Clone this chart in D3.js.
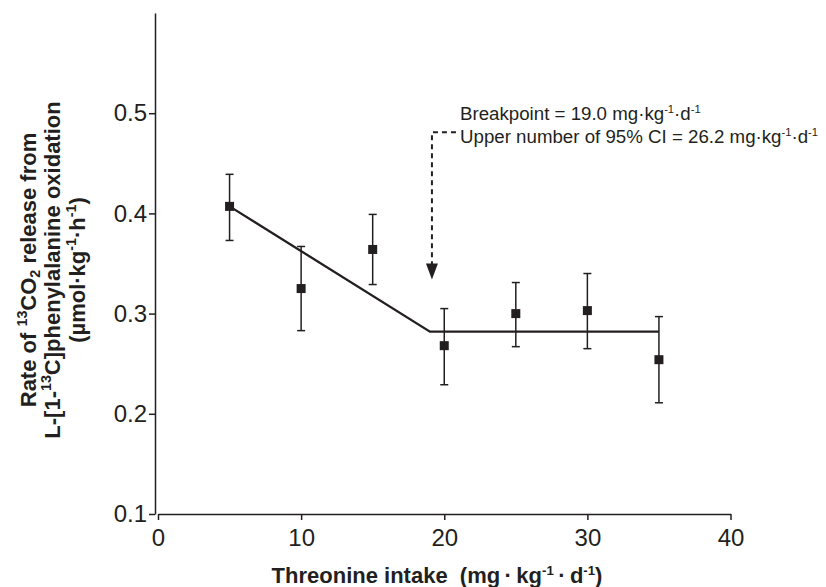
<!DOCTYPE html>
<html>
<head>
<meta charset="utf-8">
<script src="https://cdn.jsdelivr.net/npm/d3@7"></script>
<style>
  body { margin: 0; background: #fff; }
  svg { display: block; font-family: "Liberation Sans", Arial, Helvetica, sans-serif; }
  .axis path, .axis line { stroke: #231f20; stroke-width: 1.5; }
  .axis text { fill: #231f20; font-size: 24px; }
</style>
</head>
<body>
<div id="chart"></div>
<script>
// threonine intake (mg/kg/d)
var intake = [5, 10, 15, 20, 25, 30, 35];
// 13CO2 release rate, mean and error bar limits
var rate  = [0.407, 0.325, 0.364, 0.268, 0.300, 0.303, 0.254];
var upper = [0.439, 0.367, 0.399, 0.305, 0.331, 0.340, 0.297];
var lower = [0.373, 0.283, 0.329, 0.229, 0.267, 0.265, 0.211];

// two-phase linear regression
var fitX = [5, 19, 35];
var fitY = [0.407, 0.282, 0.282];
var breakpoint = 19;

var xTicks = [0, 10, 20, 30, 40];
var yTicks = [0.1, 0.2, 0.3, 0.4, 0.5];

var width = 826, height = 587;

var svg = d3.select("#chart").append("svg")
    .attr("width", width)
    .attr("height", height);

svg.append("rect").attr("width", width).attr("height", height).attr("fill", "#fff");

var x = d3.scaleLinear().domain([0, 40]).range([158, 730.5]);
var y = d3.scaleLinear().domain([0.1, 0.6]).range([514, 13]);

var ink = "#231f20";

// axes
svg.append("g")
    .attr("class", "axis")
    .attr("transform", "translate(155,0)")
    .call(d3.axisLeft(y).tickValues(yTicks).tickFormat(d3.format(".1f")).tickSize(6).tickSizeOuter(0).tickPadding(2));

svg.append("g")
    .attr("class", "axis")
    .attr("transform", "translate(0,514)")
    .call(d3.axisBottom(x).tickValues(xTicks).tickSize(6).tickSizeOuter(0).tickPadding(9));

// fitted line
var line = d3.line().x(function(d) { return x(d[0]); }).y(function(d) { return y(d[1]); });
svg.append("path")
    .datum(d3.zip(fitX, fitY))
    .attr("d", line)
    .attr("fill", "none")
    .attr("stroke", ink)
    .attr("stroke-width", 2.3);

// error bars
var pts = intake.map(function(d, i) { return {x: d, y: rate[i], hi: upper[i], lo: lower[i]}; });
var bars = svg.append("g").selectAll("g").data(pts).enter().append("g")
    .attr("stroke", ink).attr("stroke-width", 1.5);
bars.append("line")
    .attr("x1", function(d) { return x(d.x); }).attr("x2", function(d) { return x(d.x); })
    .attr("y1", function(d) { return y(d.hi); }).attr("y2", function(d) { return y(d.lo); });
bars.append("line")
    .attr("x1", function(d) { return x(d.x) - 4; }).attr("x2", function(d) { return x(d.x) + 4; })
    .attr("y1", function(d) { return y(d.hi); }).attr("y2", function(d) { return y(d.hi); });
bars.append("line")
    .attr("x1", function(d) { return x(d.x) - 4; }).attr("x2", function(d) { return x(d.x) + 4; })
    .attr("y1", function(d) { return y(d.lo); }).attr("y2", function(d) { return y(d.lo); });

// square markers
svg.append("g").selectAll("rect").data(pts).enter().append("rect")
    .attr("x", function(d) { return x(d.x) - 4.5; })
    .attr("y", function(d) { return y(d.y) - 4.5; })
    .attr("width", 9).attr("height", 9)
    .attr("fill", ink);

// breakpoint arrow (dashed)
var ax = x(breakpoint) + 2;
var aTop = y(0.481), aTip = y(0.334);
svg.append("path")
    .attr("d", "M" + (ax + 24) + "," + aTop + "H" + ax + "V" + (aTip - 14))
    .attr("fill", "none")
    .attr("stroke", ink)
    .attr("stroke-width", 2)
    .attr("stroke-dasharray", "5,4");
svg.append("path")
    .attr("d", "M" + (ax - 6) + "," + (aTip - 16) + "L" + (ax + 6) + "," + (aTip - 16) + "L" + ax + "," + aTip + "Z")
    .attr("fill", ink);

// annotation text
function units(t, pre) {
  t.append("tspan").text(pre + "mg·kg");
  t.append("tspan").attr("font-size", "0.6em").attr("baseline-shift", "0.6em").text("-1");
  t.append("tspan").text("·d");
  t.append("tspan").attr("font-size", "0.6em").attr("baseline-shift", "0.6em").text("-1");
}
var note = svg.append("g").attr("font-size", 18.7).attr("fill", ink);
units(note.append("text").attr("x", 460).attr("y", 120), "Breakpoint = 19.0 ");
units(note.append("text").attr("x", 460).attr("y", 143), "Upper number of 95% CI = 26.2 ");

// x axis title
var xt = svg.append("text")
    .attr("x", 437).attr("y", 583)
    .attr("text-anchor", "middle")
    .attr("font-size", 22).attr("font-weight", "bold").attr("fill", ink);
xt.append("tspan").text("Threonine intake\u00a0\u00a0(mg\u2009·\u2009kg");
xt.append("tspan").attr("font-size", "0.6em").attr("baseline-shift", "0.6em").text("-1");
xt.append("tspan").text("\u2009·\u2009d");
xt.append("tspan").attr("font-size", "0.6em").attr("baseline-shift", "0.6em").text("-1");
xt.append("tspan").text(")");

// y axis title, three lines
var yt = svg.append("g")
    .attr("transform", "translate(0,270) rotate(-90)")
    .attr("font-size", 22).attr("font-weight", "bold").attr("fill", ink)
    .attr("text-anchor", "middle");

var l1 = yt.append("text").attr("x", 0).attr("y", 36);
l1.append("tspan").text("Rate of ");
l1.append("tspan").attr("font-size", "0.65em").attr("baseline-shift", "0.6em").text("13");
l1.append("tspan").text("CO");
l1.append("tspan").attr("font-size", "0.65em").attr("baseline-shift", "-0.3em").text("2");
l1.append("tspan").text(" release from");

var l2 = yt.append("text").attr("x", 0).attr("y", 60);
l2.append("tspan").text("L-[1-");
l2.append("tspan").attr("font-size", "0.65em").attr("baseline-shift", "0.6em").text("13");
l2.append("tspan").text("C]phenylalanine oxidation");

var l3 = yt.append("text").attr("x", 0).attr("y", 85);
l3.append("tspan").text("(µmol·kg");
l3.append("tspan").attr("font-size", "0.65em").attr("baseline-shift", "0.6em").text("-1");
l3.append("tspan").text("·h");
l3.append("tspan").attr("font-size", "0.65em").attr("baseline-shift", "0.6em").text("-1");
l3.append("tspan").text(")");
</script>
</body>
</html>
